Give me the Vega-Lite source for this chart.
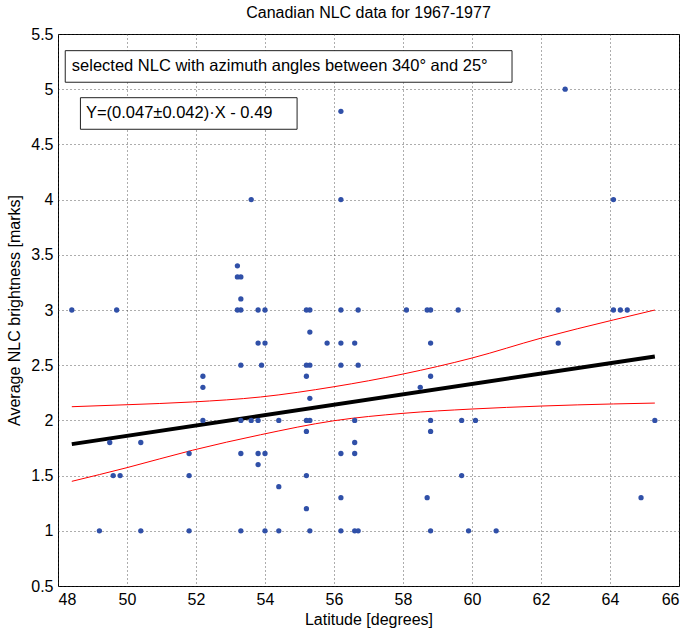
{
  "$schema": "https://vega.github.io/schema/vega-lite/v6.json",
  "width": 621,
  "height": 552,
  "autosize": {"type": "none"},
  "padding": {"left": 58, "top": 34, "right": 9, "bottom": 45},
  "background": "white",
  "config": {
    "font": "Liberation Sans",
    "view": {"stroke": "black", "strokeWidth": 1},
    "axis": {
      "labelFont": "Liberation Sans",
      "labelFontSize": 16,
      "labelColor": "black",
      "titleFont": "Liberation Sans",
      "titleFontSize": 16,
      "titleFontWeight": "normal",
      "titleColor": "black",
      "domain": false,
      "ticks": false,
      "grid": true,
      "gridColor": "#333333",
      "gridDash": [1, 3],
      "gridWidth": 1,
      "gridOpacity": 0.8
    }
  },
  "title": {
    "text": "Canadian NLC data for 1967-1977",
    "fontSize": 16,
    "fontWeight": "normal",
    "font": "Liberation Sans",
    "color": "black",
    "offset": 5
  },
  "datasets": {
    "points": [
      {"lat": 48.4, "b": 3.0}, {"lat": 49.7, "b": 3.0}, {"lat": 53.2, "b": 3.4},
      {"lat": 53.2, "b": 3.3}, {"lat": 53.3, "b": 3.3}, {"lat": 53.3, "b": 3.1},
      {"lat": 53.2, "b": 3.0}, {"lat": 53.3, "b": 3.0}, {"lat": 53.8, "b": 3.0},
      {"lat": 54.0, "b": 3.0}, {"lat": 55.2, "b": 3.0}, {"lat": 55.3, "b": 3.0},
      {"lat": 56.2, "b": 3.0}, {"lat": 56.7, "b": 3.0}, {"lat": 58.1, "b": 3.0},
      {"lat": 58.7, "b": 3.0}, {"lat": 58.8, "b": 3.0}, {"lat": 59.6, "b": 3.0},
      {"lat": 62.5, "b": 3.0}, {"lat": 64.1, "b": 3.0}, {"lat": 64.3, "b": 3.0},
      {"lat": 64.5, "b": 3.0}, {"lat": 55.3, "b": 2.8},
      {"lat": 53.8, "b": 2.7}, {"lat": 54.0, "b": 2.7}, {"lat": 55.8, "b": 2.7},
      {"lat": 56.2, "b": 2.7}, {"lat": 56.6, "b": 2.7}, {"lat": 58.8, "b": 2.7},
      {"lat": 62.5, "b": 2.7},
      {"lat": 53.3, "b": 2.5}, {"lat": 53.9, "b": 2.5}, {"lat": 55.2, "b": 2.5},
      {"lat": 55.3, "b": 2.5}, {"lat": 56.2, "b": 2.5}, {"lat": 56.7, "b": 2.5},
      {"lat": 52.2, "b": 2.4}, {"lat": 55.2, "b": 2.4}, {"lat": 58.8, "b": 2.4},
      {"lat": 52.2, "b": 2.3}, {"lat": 58.5, "b": 2.3}, {"lat": 55.3, "b": 2.2},
      {"lat": 52.2, "b": 2.0}, {"lat": 53.3, "b": 2.0}, {"lat": 53.6, "b": 2.0},
      {"lat": 53.8, "b": 2.0}, {"lat": 54.4, "b": 2.0}, {"lat": 55.2, "b": 2.0},
      {"lat": 55.3, "b": 2.0}, {"lat": 56.6, "b": 2.0}, {"lat": 58.8, "b": 2.0},
      {"lat": 59.7, "b": 2.0}, {"lat": 60.1, "b": 2.0}, {"lat": 65.3, "b": 2.0},
      {"lat": 55.2, "b": 1.9}, {"lat": 58.8, "b": 1.9},
      {"lat": 49.5, "b": 1.8}, {"lat": 50.4, "b": 1.8}, {"lat": 56.6, "b": 1.8},
      {"lat": 51.8, "b": 1.7}, {"lat": 53.3, "b": 1.7}, {"lat": 53.8, "b": 1.7},
      {"lat": 54.0, "b": 1.7}, {"lat": 56.2, "b": 1.7}, {"lat": 56.6, "b": 1.7},
      {"lat": 53.8, "b": 1.6},
      {"lat": 49.6, "b": 1.5}, {"lat": 49.8, "b": 1.5}, {"lat": 51.8, "b": 1.5},
      {"lat": 55.2, "b": 1.5}, {"lat": 59.7, "b": 1.5},
      {"lat": 54.4, "b": 1.4},
      {"lat": 56.2, "b": 1.3}, {"lat": 58.7, "b": 1.3}, {"lat": 64.9, "b": 1.3},
      {"lat": 55.2, "b": 1.2},
      {"lat": 49.2, "b": 1.0}, {"lat": 50.4, "b": 1.0}, {"lat": 51.8, "b": 1.0},
      {"lat": 53.3, "b": 1.0}, {"lat": 54.0, "b": 1.0}, {"lat": 54.4, "b": 1.0},
      {"lat": 55.3, "b": 1.0}, {"lat": 56.2, "b": 1.0}, {"lat": 56.6, "b": 1.0},
      {"lat": 56.7, "b": 1.0}, {"lat": 58.8, "b": 1.0}, {"lat": 59.9, "b": 1.0},
      {"lat": 60.7, "b": 1.0},
      {"lat": 53.6, "b": 4.0}, {"lat": 56.2, "b": 4.0}, {"lat": 64.1, "b": 4.0},
      {"lat": 56.2, "b": 4.8}, {"lat": 62.7, "b": 5.0}
    ],
    "fit": [
      {"lat": 48.4, "b": 1.785},
      {"lat": 65.3, "b": 2.579}
    ],
    "band": [
      {"lat": 48.4, "lo": 1.448, "hi": 2.124},
      {"lat": 50.0, "lo": 1.572, "hi": 2.142},
      {"lat": 51.9, "lo": 1.73, "hi": 2.167},
      {"lat": 53.87, "lo": 1.87, "hi": 2.212},
      {"lat": 56.0, "lo": 1.997, "hi": 2.305},
      {"lat": 58.0, "lo": 2.064, "hi": 2.42},
      {"lat": 60.0, "lo": 2.103, "hi": 2.565},
      {"lat": 62.0, "lo": 2.13, "hi": 2.745},
      {"lat": 64.1, "lo": 2.149, "hi": 2.91},
      {"lat": 65.3, "lo": 2.157, "hi": 3.0}
    ],
    "boxes": [
      {"x1": 48.21, "x2": 61.16, "y1": 5.349, "y2": 5.063, "tx": 48.4, "ty": 5.206, "label": "selected NLC with azimuth angles between 340° and 25°"},
      {"x1": 48.65, "x2": 54.93, "y1": 4.923, "y2": 4.637, "tx": 48.81, "ty": 4.78, "label": "Y=(0.047±0.042)·X - 0.49"}
    ]
  },
  "layer": [
    {
      "data": {"name": "band"},
      "mark": {"type": "line", "color": "#ff0000", "strokeWidth": 1, "interpolate": "monotone"},
      "encoding": {
        "x": {"field": "lat", "type": "quantitative", "scale": {"domain": [48, 66], "nice": false}, "axis": {"values": [48, 50, 52, 54, 56, 58, 60, 62, 64, 66], "title": "Latitude [degrees]", "labelPadding": 5, "titlePadding": 4}},
        "y": {"field": "hi", "type": "quantitative", "scale": {"domain": [0.5, 5.5], "nice": false, "zero": false}, "axis": {"values": [0.5, 1, 1.5, 2, 2.5, 3, 3.5, 4, 4.5, 5, 5.5], "format": ".2~f", "title": "Average NLC brightness [marks]", "labelPadding": 5, "titlePadding": 8}}
      }
    },
    {
      "data": {"name": "band"},
      "mark": {"type": "line", "color": "#ff0000", "strokeWidth": 1, "interpolate": "monotone"},
      "encoding": {
        "x": {"field": "lat", "type": "quantitative"},
        "y": {"field": "lo", "type": "quantitative"}
      }
    },
    {
      "data": {"name": "fit"},
      "mark": {"type": "line", "color": "black", "strokeWidth": 4},
      "encoding": {
        "x": {"field": "lat", "type": "quantitative"},
        "y": {"field": "b", "type": "quantitative"}
      }
    },
    {
      "data": {"name": "points"},
      "mark": {"type": "circle", "color": "#3050a8", "size": 28, "opacity": 1},
      "encoding": {
        "x": {"field": "lat", "type": "quantitative"},
        "y": {"field": "b", "type": "quantitative"}
      }
    },
    {
      "data": {"name": "boxes"},
      "mark": {"type": "rect", "fill": "white", "stroke": "#222222", "strokeWidth": 1},
      "encoding": {
        "x": {"field": "x1", "type": "quantitative"},
        "x2": {"field": "x2"},
        "y": {"field": "y1", "type": "quantitative"},
        "y2": {"field": "y2"}
      }
    },
    {
      "data": {"name": "boxes"},
      "mark": {"type": "text", "align": "left", "baseline": "middle", "fontSize": 16.5, "font": "Liberation Sans", "color": "black"},
      "encoding": {
        "x": {"field": "tx", "type": "quantitative"},
        "y": {"field": "ty", "type": "quantitative"},
        "text": {"field": "label"}
      }
    }
  ]
}
